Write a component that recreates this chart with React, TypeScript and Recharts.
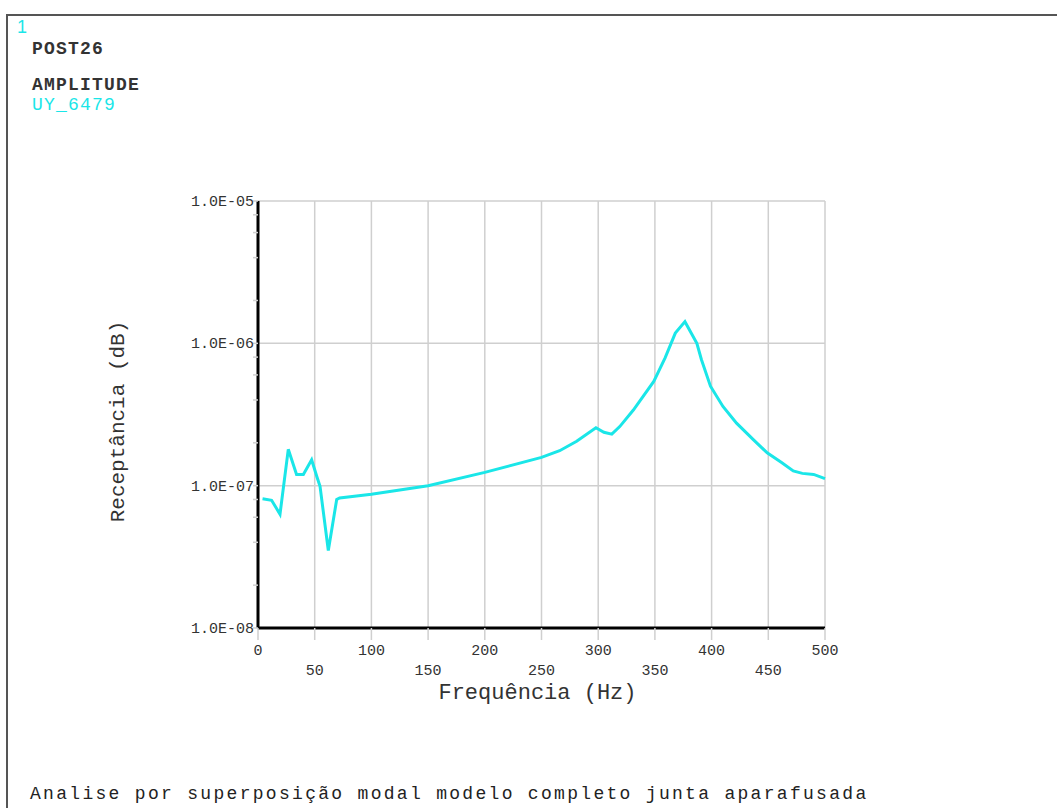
import { LineChart, Line, XAxis, YAxis, CartesianGrid, ReferenceLine } from "recharts";

// frequency response at node UY_6479 (Hz / receptance)
const FREQ = [
  4, 12, 19.4, 26.7, 34, 40, 47.3, 52, 54.7, 62, 69.4, 72, 100, 150, 200, 250,
  266, 281, 298, 305, 312, 319, 331, 349, 359, 368, 376.5, 387, 391, 399, 410,
  422, 437, 449, 462, 472, 480, 490, 500,
];
const RECEPTANCE = [
  8.1e-8, 7.9e-8, 6.3e-8, 1.8e-7, 1.2e-7, 1.2e-7, 1.52e-7, 1.15e-7, 9.9e-8,
  3.5e-8, 8.0e-8, 8.2e-8, 8.7e-8, 1.0e-7, 1.24e-7, 1.58e-7, 1.76e-7, 2.05e-7,
  2.55e-7, 2.37e-7, 2.3e-7, 2.6e-7, 3.4e-7, 5.4e-7, 7.9e-7, 1.18e-6, 1.42e-6,
  1.0e-6, 7.7e-7, 5.0e-7, 3.6e-7, 2.75e-7, 2.1e-7, 1.7e-7, 1.45e-7, 1.27e-7,
  1.22e-7, 1.2e-7, 1.12e-7,
];

const X_TICKS = [0, 50, 100, 150, 200, 250, 300, 350, 400, 450, 500];
const DECADES = [1e-8, 1e-7, 1e-6, 1e-5];
const MINOR_TICKS = [
  2e-8, 4e-8, 6e-8, 8e-8, 2e-7, 4e-7, 6e-7, 8e-7, 2e-6, 4e-6, 6e-6, 8e-6,
];

const data = FREQ.map((f, i) => ({ f, r: RECEPTANCE[i] }));
const yTicks = [...DECADES, ...MINOR_TICKS].sort((a, b) => a - b);

const MONO = "'Liberation Mono', 'Courier New', monospace";
const CYAN = "#1ae6e8";
const GRID = "#cfcfcf";

function sci(v: number) {
  const exp = Math.round(Math.log10(v));
  const mant = v / Math.pow(10, exp);
  const sign = exp < 0 ? "-" : "+";
  return `${mant.toFixed(1)}E${sign}${String(Math.abs(exp)).padStart(2, "0")}`;
}

function isDecade(v: number) {
  return DECADES.some((d) => Math.abs(d - v) / d < 1e-6);
}

const YTick = (props: any) => {
  const { x, y, payload } = props;
  if (!isDecade(payload.value)) return null;
  return (
    <text x={x} y={y} dy={5} textAnchor="end" fontFamily={MONO} fontSize={15} fill="#333">
      {sci(payload.value)}
    </text>
  );
};

// labels alternate between two rows: hundreds on top, fifties below
const XTick = (props: any) => {
  const { x, y, payload } = props;
  const lower = payload.value % 100 !== 0;
  return (
    <text x={x} y={y} dy={lower ? 35 : 15} textAnchor="middle" fontFamily={MONO} fontSize={15} fill="#333">
      {payload.value}
    </text>
  );
};

const YTitle = (props: any) => {
  const vb = props.viewBox || { x: 108, y: 201, width: 150, height: 427 };
  const cx = vb.x + 16;
  const cy = vb.y + vb.height / 2 + 7;
  return (
    <text
      x={cx}
      y={cy}
      transform={`rotate(-90 ${cx} ${cy})`}
      textAnchor="middle"
      fontFamily={MONO}
      fontSize={21}
      fill="#333"
    >
      Receptância (dB)
    </text>
  );
};

const XTitle = (props: any) => {
  const vb = props.viewBox || { x: 258, y: 628, width: 567, height: 70 };
  return (
    <text
      x={vb.x + vb.width / 2 - 4}
      y={vb.y + 71}
      textAnchor="middle"
      fontFamily={MONO}
      fontSize={22}
      fill="#333"
    >
      Frequência (Hz)
    </text>
  );
};

export default function App() {
  return (
    <div
      style={{
        position: "absolute",
        left: 0,
        top: 0,
        width: 1057,
        height: 808,
        background: "#fff",
        overflow: "hidden",
      }}
    >
      {/* window frame */}
      <div
        style={{
          position: "absolute",
          left: 6,
          top: 14,
          width: 1057,
          height: 808,
          borderTop: "2px solid #555",
          borderLeft: "2px solid #555",
        }}
      />

      <div style={{ position: "absolute", left: 17, top: 17, color: CYAN, fontFamily: "'Liberation Sans', Arial, sans-serif", fontSize: 18 }}>
        1
      </div>
      <div style={{ position: "absolute", left: 32, top: 39, color: "#333", fontFamily: MONO, fontSize: 18, fontWeight: "bold", letterSpacing: 1.2 }}>
        POST26
      </div>
      <div style={{ position: "absolute", left: 32, top: 75, color: "#333", fontFamily: MONO, fontSize: 18, fontWeight: "bold", letterSpacing: 1.2 }}>
        AMPLITUDE
      </div>
      <div style={{ position: "absolute", left: 32, top: 95, color: CYAN, fontFamily: MONO, fontSize: 18, letterSpacing: 1.2 }}>
        UY_6479
      </div>

      <div style={{ position: "absolute", left: 0, top: 0 }}>
        <LineChart
          width={1057}
          height={808}
          data={data}
          margin={{ top: 201, right: 232, bottom: 110, left: 108 }}
        >
          <CartesianGrid horizontal={false} stroke={GRID} strokeWidth={1.5} />
          {DECADES.map((d) => (
            <ReferenceLine key={d} y={d} stroke={GRID} strokeWidth={1.5} />
          ))}
          <XAxis
            dataKey="f"
            type="number"
            domain={[0, 500]}
            ticks={X_TICKS}
            interval={0}
            height={70}
            tickSize={12}
            tickMargin={0}
            tickLine={{ stroke: GRID, strokeWidth: 1.5 }}
            axisLine={{ stroke: "#000", strokeWidth: 3 }}
            tick={<XTick />}
            label={{ content: XTitle }}
          />
          <YAxis
            dataKey="r"
            scale="log"
            domain={[1e-8, 1e-5]}
            allowDataOverflow
            ticks={yTicks}
            interval={0}
            width={150}
            tickSize={5}
            tickMargin={-1}
            tickLine={{ stroke: GRID, strokeWidth: 1.5 }}
            axisLine={{ stroke: "#000", strokeWidth: 3 }}
            tick={<YTick />}
            label={{ content: YTitle }}
          />
          <Line
            type="linear"
            dataKey="r"
            stroke={CYAN}
            strokeWidth={3}
            dot={false}
            isAnimationActive={false}
          />
        </LineChart>
      </div>

      <div
        style={{
          position: "absolute",
          left: 30,
          top: 784,
          color: "#222",
          fontFamily: MONO,
          fontSize: 18,
          letterSpacing: 2.3,
          whiteSpace: "nowrap",
        }}
      >
        Analise por superposição modal modelo completo junta aparafusada
      </div>
    </div>
  );
}
